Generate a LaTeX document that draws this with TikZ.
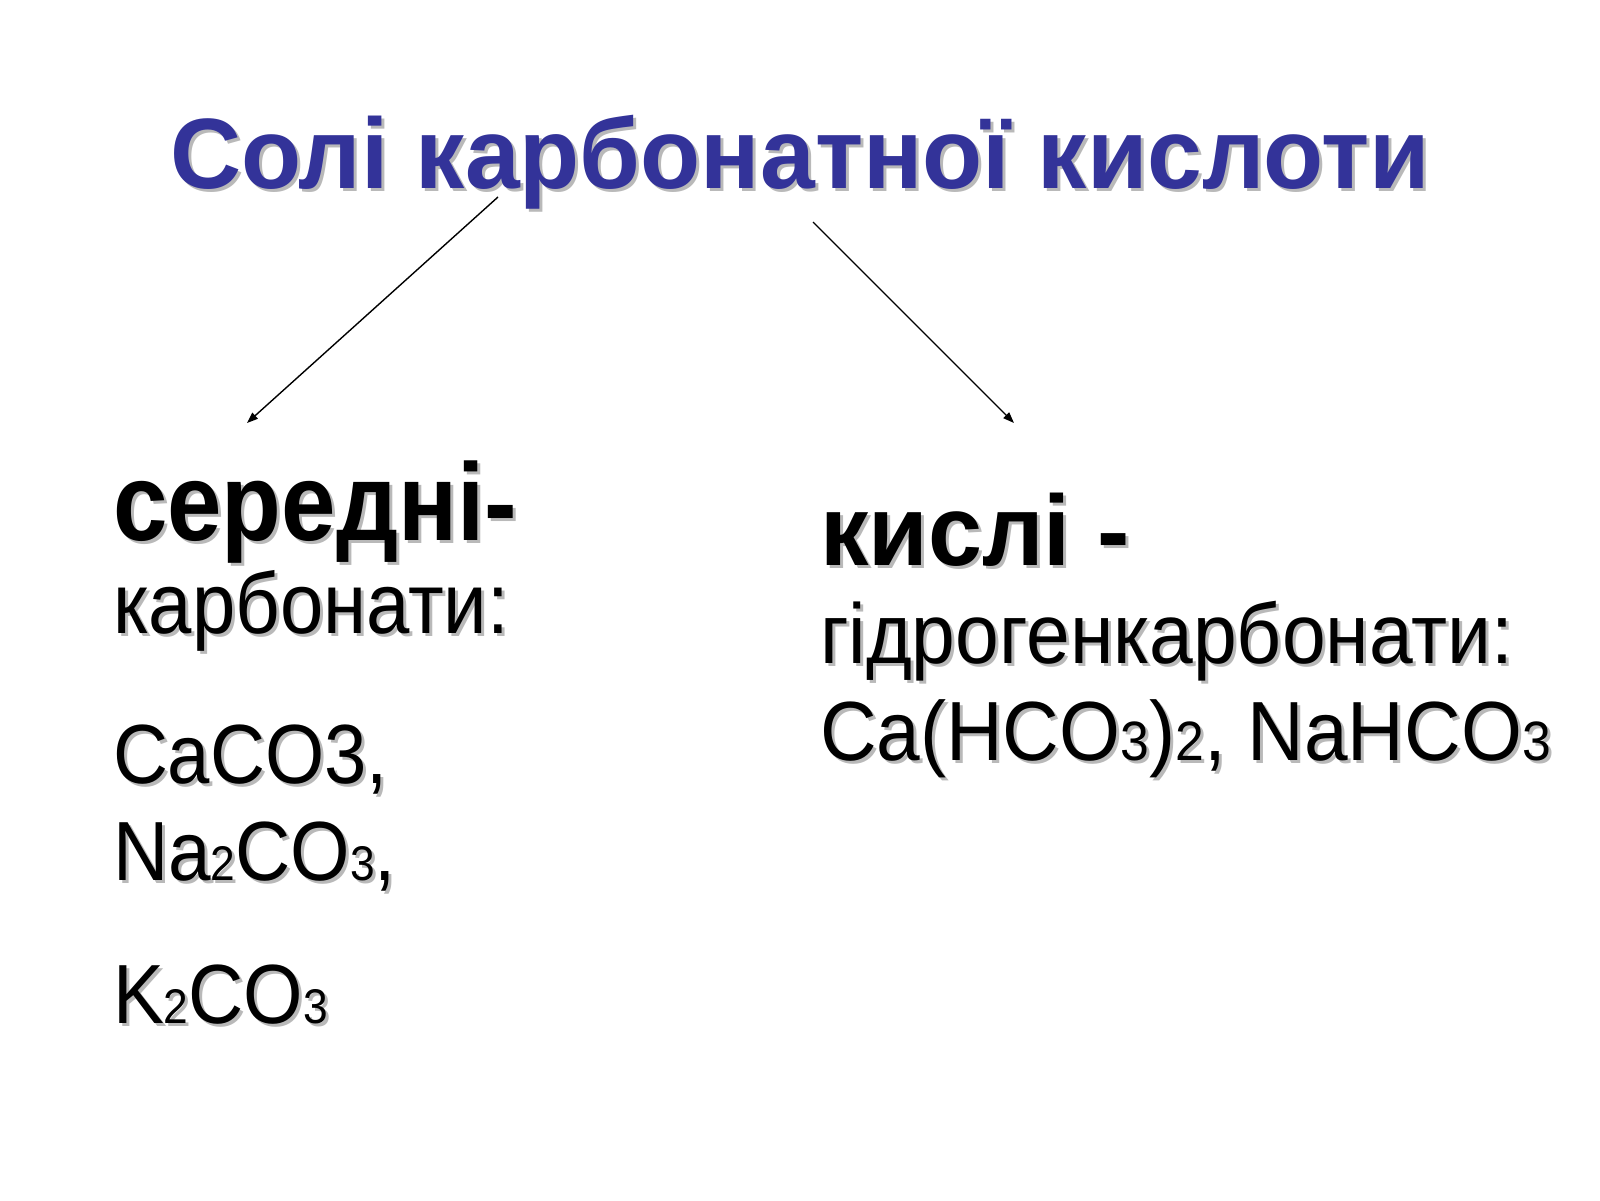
\documentclass[tikz,border=0pt]{standalone}
\usepackage{fontspec}
\setmainfont{Liberation Sans}
\usetikzlibrary{arrows.meta,calc}
\definecolor{titleblue}{RGB}{51,51,153}
\definecolor{shadowgray}{RGB}{185,185,185}
\newcommand\smd[1]{\scalebox{0.58}{#1}}
\newcommand\smr[1]{\scalebox{0.66}{#1}}
\newcommand\fs[1]{\fontsize{#1}{#1}\selectfont}
\tikzset{
  txt/.style={anchor=base west, inner sep=0pt, outer sep=0pt, text=black},
  shd/.style={anchor=base west, inner sep=0pt, outer sep=0pt, text=shadowgray},
  arr/.style={-{Triangle[length=11pt,width=8pt]}, line width=1.4pt, black}
}
% #1 name, #2 position (x,y), #3 content, #4 extra style
\newcommand\shtext[4]{%
  \node[shd,#4,text=shadowgray] (#1s) at ($#2+(3,3)$) {#3};
  \node[txt,#4] (#1) at #2 {#3};
}
\begin{document}
\begin{tikzpicture}[x=1pt,y=-1pt]
\useasboundingbox[fill=white] (0,0) rectangle (1600,1200);

\shtext{title}{(170,188)}{\resizebox{1260pt}{\height}{\fs{100}\bfseries Солі карбонатної кислоти}}{text=titleblue}

\shtext{sered}{(113,540)}{\resizebox{404pt}{\height}{\fs{110}\bfseries середні-}}{}
\shtext{karb}{(113,633)}{\resizebox{396pt}{\height}{\fs{86}карбонати:}}{}
\shtext{caco}{(113,783)}{\resizebox{275pt}{\height}{\fs{84}CaCO3,}}{}
\shtext{naco}{(113,880)}{\resizebox{283pt}{\height}{\fs{84}Na\smd{2}CO\smd{3},}}{}
\shtext{kco}{(113,1023)}{\resizebox{215pt}{\height}{\fs{84}K\smd{2}CO\smd{3}}}{}

\shtext{kysli}{(820,565)}{\resizebox{310pt}{\height}{\fs{100}\bfseries кислі -}}{}
\shtext{hidro}{(820,663)}{\resizebox{693pt}{\height}{\fs{85}гідрогенкарбонати:}}{}
\shtext{cahco}{(820,760)}{\resizebox{731pt}{\height}{\fs{84}Ca(HCO\smr{3})\smr{2}, NaHCO\smr{3}}}{}

\coordinate (la) at (498,197);
\coordinate (lb) at (247,423);
\coordinate (ra) at (813,222);
\coordinate (rb) at (1014,423);
\draw[arr] (la) -- (lb);
\draw[arr] (ra) -- (rb);
\end{tikzpicture}
\end{document}
